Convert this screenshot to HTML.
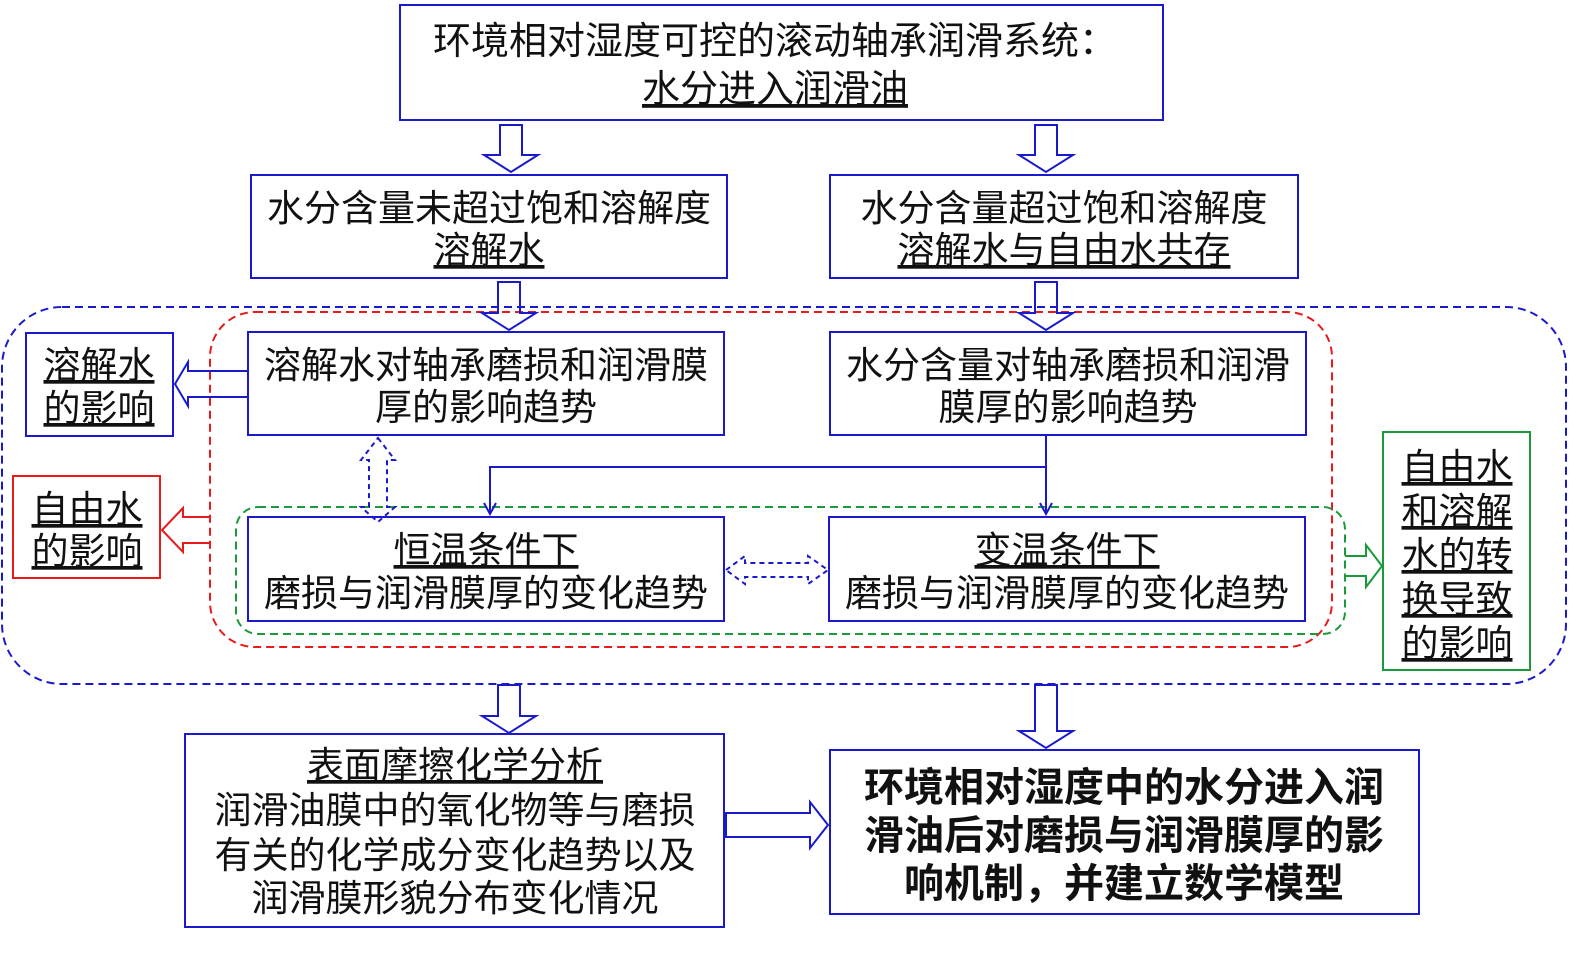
<!DOCTYPE html>
<html><head><meta charset="utf-8"><style>
body{margin:0;background:#fff}
svg{display:block}
text{font-family:"Liberation Sans","Noto Sans CJK SC",sans-serif;fill:#111}
.t{font-size:37px}
.u{text-decoration:underline}
</style></head><body>
<svg width="1590" height="953" viewBox="0 0 1590 953" xmlns="http://www.w3.org/2000/svg">
<g fill="none" stroke-width="2">
<rect x="2" y="307" width="1564" height="377" rx="60" stroke="#1a1acc" stroke-dasharray="8,5"/>
<rect x="210" y="312" width="1122" height="335" rx="45" stroke="#e81a1a" stroke-dasharray="8,5"/>
<rect x="236" y="507" width="1109" height="127" rx="22" stroke="#1a9a3a" stroke-dasharray="8,5"/>
<rect x="400" y="5" width="763" height="115" stroke="#1a1acc"/>
<rect x="251" y="175" width="476" height="103" stroke="#1a1acc"/>
<rect x="830" y="175" width="468" height="103" stroke="#1a1acc"/>
<rect x="248" y="332" width="476" height="103" stroke="#1a1acc"/>
<rect x="830" y="332" width="476" height="103" stroke="#1a1acc"/>
<rect x="26" y="333" width="147" height="103" stroke="#1a1acc"/>
<rect x="13" y="476" width="147" height="102" stroke="#e81a1a"/>
<rect x="1383" y="432" width="147" height="238" stroke="#1a9a3a"/>
<rect x="248" y="517" width="476" height="104" stroke="#1a1acc"/>
<rect x="829" y="517" width="476" height="104" stroke="#1a1acc"/>
<rect x="185" y="734" width="539" height="193" stroke="#1a1acc"/>
<rect x="830" y="750" width="589" height="164" stroke="#1a1acc"/>
<g stroke="#1a1acc">
<path d="M500 125 H522 V155 H538 L511 172 L484 155 H500 Z"/>
<path d="M1035 125 H1057 V155 H1073 L1046 172 L1019 155 H1035 Z"/>
<path d="M498 282 H520 V313 H536 L509 330 L482 313 H498 Z"/>
<path d="M1035 282 H1057 V313 H1073 L1046 330 L1019 313 H1035 Z"/>
<path d="M498 685 H520 V716 H536 L509 733 L482 716 H498 Z"/>
<path d="M1035 685 H1057 V731 H1073 L1046 748 L1019 731 H1035 Z"/>
<path d="M248 371 H188 V362 L175 384 L188 406 V397 H248"/>
<path d="M726 813 H810 V802 L828 825 L810 848 V837 H726 Z"/>
<path d="M1046 436 V512 M1046 467 H490 V512"/>
<path d="M484 503 L490 514 L496 503 M1040 503 L1046 514 L1052 503"/>
</g>
<path stroke="#e81a1a" d="M210 517 H183 V508 L162 530 L183 552 V543 H210"/>
<path stroke="#1a9a3a" d="M1345 556 H1366 V545 L1382 566 L1366 587 V576 H1345"/>
<g stroke="#1a1acc" stroke-dasharray="5,4">
<path d="M378 438 L395 460 H387 V507 H395 L378 522 L361 507 H369 V460 H361 Z"/>
<path d="M726 570 L745 556 V563 H808 V556 L828 570 L808 584 V577 H745 V584 Z"/>
</g>
</g>
<g text-anchor="middle" class="t">
<text x="775" y="54" style="font-size:38px">环境相对湿度可控的滚动轴承润滑系统：</text>
<text x="775" y="102" class="u" style="font-size:38px">水分进入润滑油</text>
<text x="489" y="221">水分含量未超过饱和溶解度</text>
<text x="489" y="263" class="u">溶解水</text>
<text x="1064" y="221">水分含量超过饱和溶解度</text>
<text x="1064" y="263" class="u">溶解水与自由水共存</text>
<text x="486" y="378">溶解水对轴承磨损和润滑膜</text>
<text x="486" y="420">厚的影响趋势</text>
<text x="1068" y="378">水分含量对轴承磨损和润滑</text>
<text x="1068" y="420">膜厚的影响趋势</text>
<text x="99" y="378" class="u">溶解水</text>
<text x="99" y="421" class="u">的影响</text>
<text x="87" y="522" class="u">自由水</text>
<text x="87" y="564" class="u">的影响</text>
<text x="1457" y="480" class="u">自由水</text>
<text x="1457" y="524" class="u">和溶解</text>
<text x="1457" y="568" class="u">水的转</text>
<text x="1457" y="612" class="u">换导致</text>
<text x="1457" y="656" class="u">的影响</text>
<text x="486" y="563" class="u">恒温条件下</text>
<text x="486" y="606">磨损与润滑膜厚的变化趋势</text>
<text x="1067" y="563" class="u">变温条件下</text>
<text x="1067" y="606">磨损与润滑膜厚的变化趋势</text>
<text x="455" y="778" class="u">表面摩擦化学分析</text>
<text x="455" y="823">润滑油膜中的氧化物等与磨损</text>
<text x="455" y="868">有关的化学成分变化趋势以及</text>
<text x="455" y="911">润滑膜形貌分布变化情况</text>
<g style="font-weight:bold;font-size:40px">
<text x="1124" y="801">环境相对湿度中的水分进入润</text>
<text x="1124" y="849">滑油后对磨损与润滑膜厚的影</text>
<text x="1124" y="897">响机制，并建立数学模型</text>
</g>
</g>
</svg>
</body></html>
